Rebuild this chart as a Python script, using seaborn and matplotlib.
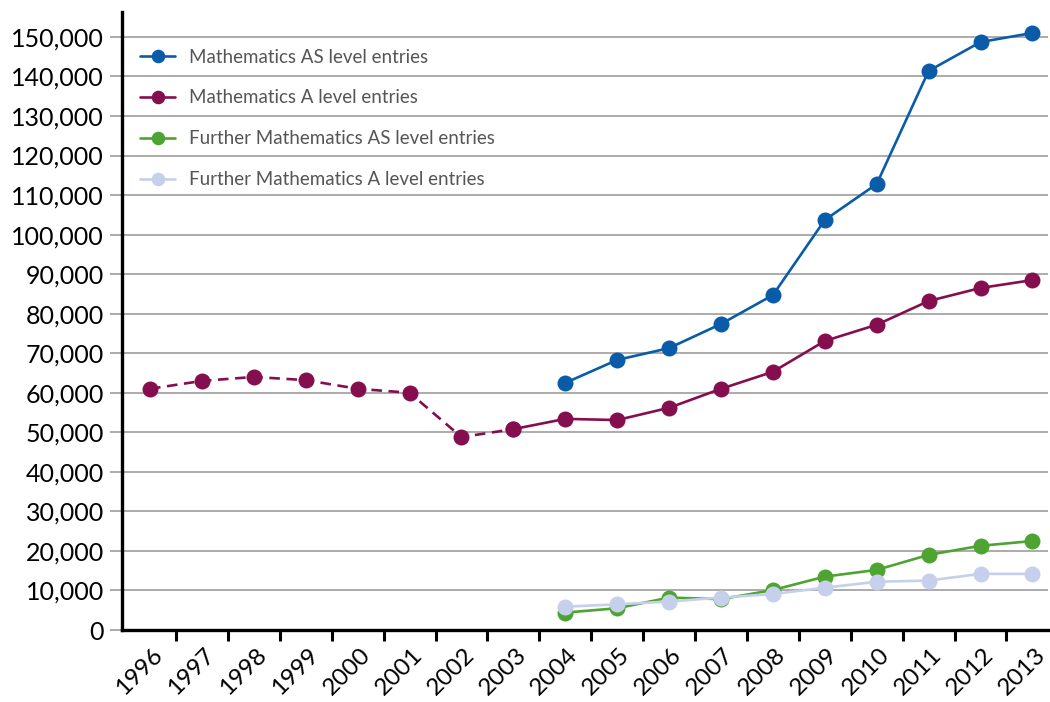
import matplotlib
matplotlib.use("Agg")
import matplotlib.pyplot as plt
import matplotlib.transforms as mtransforms
from matplotlib.ticker import FixedLocator, FuncFormatter
import seaborn as sns
import pandas as pd

years_all = list(range(1996, 2014))
years_new = list(range(2004, 2014))

maths_as = [62500, 68300, 71300, 77400, 84700, 103700, 112800, 141400, 148700, 151000]
maths_a_old_years = list(range(1996, 2004))
maths_a_old = [61000, 63000, 64000, 63200, 61000, 60000, 48800, 50800]
maths_a_years = list(range(2003, 2014))
maths_a = [50800, 53400, 53100, 56200, 61000, 65300, 73100, 77200, 83200, 86500, 88500]
fm_as = [4400, 5500, 8200, 7800, 10100, 13500, 15200, 19000, 21300, 22500]
fm_a = [5900, 6500, 7200, 8200, 9100, 10700, 12200, 12500, 14200, 14200]

labels = ["Mathematics AS level entries", "Mathematics A level entries",
          "Further Mathematics AS level entries", "Further Mathematics A level entries"]
colors = ["#0A5CA8", "#850E4F", "#4DA431", "#C6D0EC"]

sns.set_theme(style="white")
plt.rcParams["font.family"] = ["Lato", "DejaVu Sans"]

fig = plt.figure(figsize=(10.5, 7.02), dpi=100)
ax = fig.add_axes([122/1050, 1-630/702, (1048-122)/1050, (630-12)/702])

lw = 1.9
ms = 11.5
common = dict(ax=ax, marker="o", markersize=ms, linewidth=lw, markeredgewidth=0)

# dashed early part of Mathematics A level
sns.lineplot(x=maths_a_old_years, y=maths_a_old, color=colors[1], linestyle=(0, (4, 2.5)),
             legend=False, zorder=3, **common)
sns.lineplot(x=years_new, y=maths_as, color=colors[0], label=labels[0], zorder=4, **common)
sns.lineplot(x=maths_a_years, y=maths_a, color=colors[1], label=labels[1], zorder=3, **common)
sns.lineplot(x=years_new, y=fm_as, color=colors[2], label=labels[2], zorder=3, **common)
sns.lineplot(x=years_new, y=fm_a, color=colors[3], label=labels[3], zorder=3.5, **common)

ax.set_xlim(1995.46, 2013.3)
ax.set_ylim(0, 156300)

# y axis
yt = list(range(0, 150001, 10000))
ax.set_yticks(yt)
ax.yaxis.set_major_formatter(FuncFormatter(lambda v, p: f"{int(v):,}"))
ax.grid(axis="y", color="#ABABAB", linewidth=1.4, zorder=0)
ax.grid(axis="x", visible=False)
ax.tick_params(axis="y", which="major", length=9, width=1.4, color="#ABABAB",
               labelsize=18, labelcolor="black", pad=4, left=True)

# x axis
ax.set_xticks(years_all)
ax.set_xticklabels([str(y) for y in years_all])
ax.xaxis.set_minor_locator(FixedLocator([y + 0.5 for y in years_all[:-1]]))
ax.tick_params(axis="x", which="major", length=0, labelsize=17.5, labelcolor="black", pad=10)
ax.tick_params(axis="x", which="minor", length=8, width=2.2, color="black", bottom=True)
offset = mtransforms.ScaledTranslation(2/100, 0, fig.dpi_scale_trans)
for lab in ax.get_xticklabels():
    lab.set_rotation(45)
    lab.set_ha("right")
    lab.set_rotation_mode("anchor")
    lab.set_transform(lab.get_transform() + offset)

for s in ["top", "right"]:
    ax.spines[s].set_visible(False)
for s in ["left", "bottom"]:
    ax.spines[s].set_color("black")
    ax.spines[s].set_linewidth(2.4)

leg = ax.legend(loc="upper left", bbox_to_anchor=(0.001, 0.968), frameon=False,
                fontsize=13.5, labelcolor="#555555", handlelength=1.9, handletextpad=0.7,
                labelspacing=1.27, markerscale=0.85)

fig.savefig("out.png", dpi=100)
